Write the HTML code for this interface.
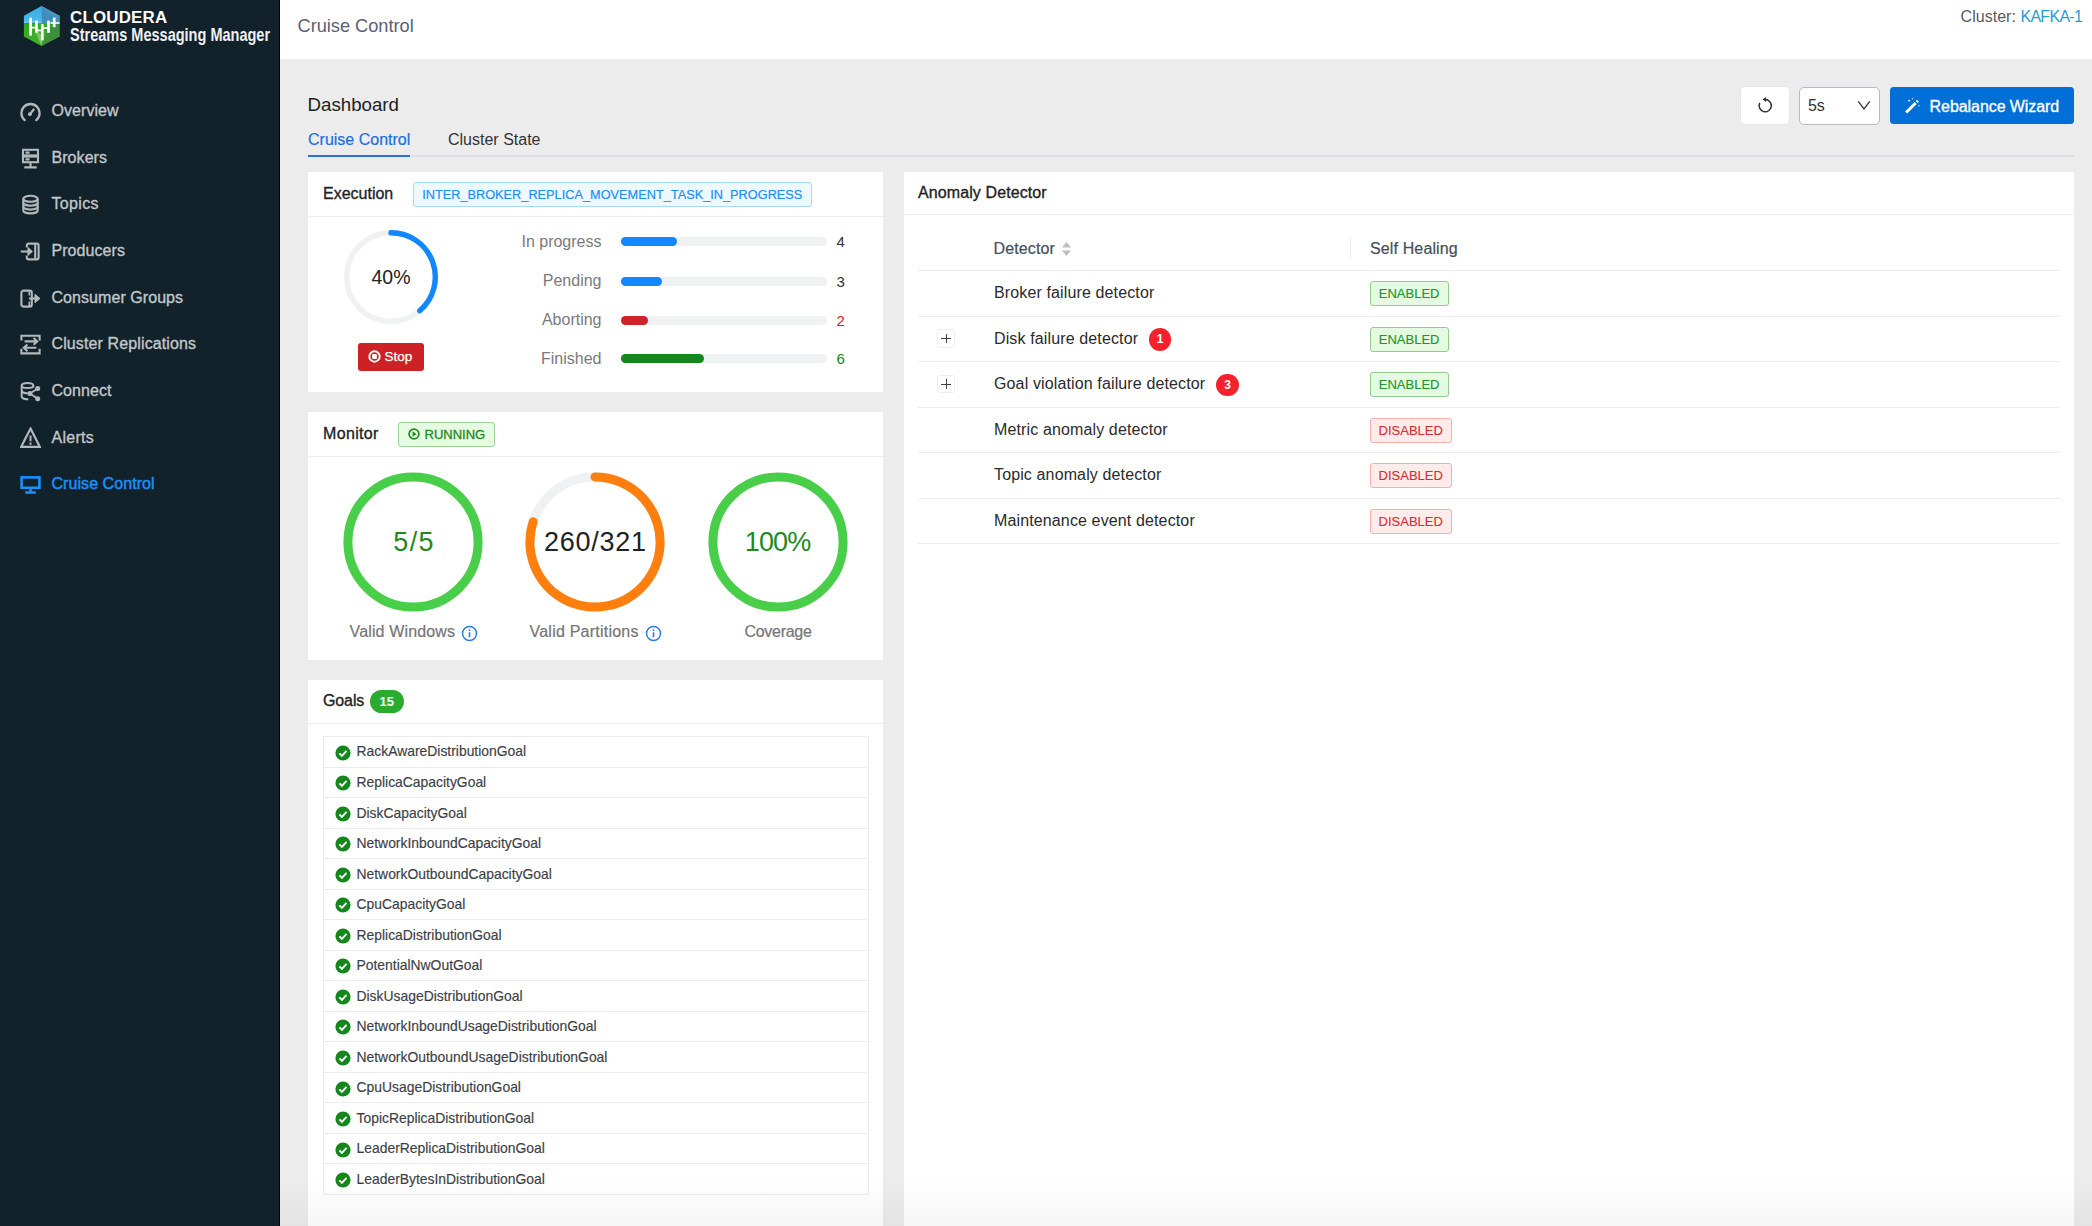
<!DOCTYPE html>
<html lang="en">
<head>
<meta charset="utf-8">
<title>Cruise Control - Streams Messaging Manager</title>
<style>
*{box-sizing:border-box;margin:0;padding:0}
html,body{width:2092px;height:1226px;overflow:hidden;background:#ececec;font-family:"Liberation Sans",sans-serif;color:#222}
.abs{position:absolute}
.t{position:absolute;white-space:nowrap;line-height:1}
.med{-webkit-text-stroke:0.33px currentColor}
#side{position:absolute;left:0;top:0;width:279.8px;height:1226px;background:#12222a;border-right:1.6px solid #03070a}
#top{position:absolute;left:280px;top:0;width:1812px;height:59px;background:#fff}
.nav{position:absolute;left:51.5px;font-size:16px;color:#c3c8ca;white-space:nowrap;line-height:20px;-webkit-text-stroke:0.32px currentColor;letter-spacing:0.06px}
.nav.on{color:#1a90ff}
.ico{position:absolute;left:20px;width:21px;height:21px}
.card{position:absolute;background:#fff}
.hr{position:absolute;height:1.5px;background:#eeeeee}
.tag{position:absolute;border:1px solid;border-radius:3px;font-size:13px;line-height:23px;white-space:nowrap;text-align:center;-webkit-text-stroke:0.12px currentColor}
.tag.en{background:#e4fae1;border-color:#92cd8f;color:#22942c}
.tag.dis{background:#ffecea;border-color:#f6aeaa;color:#d52c34}
.plabel{position:absolute;right:281.5px;font-size:16px;color:#7a7a7a;white-space:nowrap;line-height:20px}
.pbar{position:absolute;left:313px;width:206px;height:9px;border-radius:5px;background:#f0f1f2}
.pbar i{position:absolute;left:0;top:0;height:9px;border-radius:5px}
.pval{position:absolute;left:528.5px;font-size:15px;line-height:20px}
.grow{position:absolute;left:0;width:543px;height:30.5px;border-top:1.3px solid #ececec}
.grow span{position:absolute;left:32.5px;top:6.3px;font-size:13.9px;line-height:16px;color:#3c4045;white-space:nowrap;-webkit-text-stroke:0.15px currentColor}
.grow svg{position:absolute;left:10.5px;top:7.6px;width:16px;height:16px}
.drow{position:absolute;left:14px;width:1141px;height:45.5px;border-bottom:1.3px solid #ececec}
.drow .n{position:absolute;left:76.5px;top:12.2px;font-size:16px;line-height:20px;color:#2a2a2a;white-space:nowrap;letter-spacing:0.13px}
.exp{position:absolute;left:19px;top:12.5px;width:18.5px;height:18.5px;border:1px solid #efefef;border-radius:3px;background:#fff}
.exp:before{content:"";position:absolute;left:3.5px;right:3.5px;top:8px;height:1.2px;background:#444}
.exp:after{content:"";position:absolute;top:3.5px;bottom:3.5px;left:8px;width:1.2px;background:#444}
.bdg{position:absolute;width:22.7px;height:22.7px;border-radius:11.4px;background:#f5222d;color:#fff;font-size:12px;font-weight:700;line-height:22.7px;text-align:center}
.clabel{position:absolute;-webkit-text-stroke:0.2px currentColor;font-size:16px;color:#757575;line-height:20px;white-space:nowrap}
</style>
</head>
<body>
<!-- SIDEBAR -->
<div id="side">
  <svg class="abs" style="left:23px;top:5px" width="38" height="43" viewBox="0 0 38 43">
    <defs>
      <linearGradient id="lg1" x1="0" y1="0" x2="0" y2="1"><stop offset="0" stop-color="#36aee8"/><stop offset=".7" stop-color="#45b6ea"/><stop offset="1" stop-color="#7ccbf2"/></linearGradient>
      <linearGradient id="lg2" x1="0" y1="0" x2="0" y2="1"><stop offset="0" stop-color="#2fa820"/><stop offset="1" stop-color="#45b030"/></linearGradient>
    </defs>
    <polygon points="18.5,0.9 36.5,10.7 36.5,19.6 0.9,18 0.9,10.7" fill="url(#lg1)"/>
    <polygon points="18.5,0.9 36.5,10.7 36.5,19.6 19,19" fill="#3f86b2" opacity=".85"/>
    <polygon points="18.5,0.9 36.5,10.7 36.5,15 24,8" fill="#5a9cc4" opacity=".5"/>
    <polygon points="0.9,18 36.5,19.6 36.5,31.5 18.5,41 0.9,31.5" fill="url(#lg2)"/>
    <polygon points="36.5,19.6 36.5,31.5 18.5,41 26,22" fill="#3f8a42" opacity=".85"/>
    <polygon points="12,26 18.5,41 20,30" fill="#9fd98a" opacity=".6"/>
    <g stroke="#fff" stroke-width="2.7" stroke-linecap="butt">
      <line x1="7.6" y1="12.6" x2="7.6" y2="30.6"/><line x1="13.5" y1="15.6" x2="13.5" y2="27.8"/>
      <line x1="19.3" y1="19" x2="19.3" y2="35.4"/><line x1="25.5" y1="15.6" x2="25.5" y2="27.8"/><line x1="31.2" y1="12.6" x2="31.2" y2="22.2"/>
      <path d="M7.6 22.6H13.5M13.5 25.4H19.3M19.3 23.2H25.5" stroke-width="1.8" fill="none"/>
      <path d="M27.5 18H36.5" stroke-width="1.6" fill="none"/>
    </g>
  </svg>
  <div class="t" style="left:69.5px;top:9.8px;font-size:16px;font-weight:700;color:#fff;letter-spacing:0.2px;transform-origin:0 0;transform:scaleX(1.055)">CLOUDERA</div>
  <div class="t" style="left:69.5px;top:24.5px;font-size:19px;font-weight:700;color:#eef1f2;transform-origin:0 0;transform:scaleX(.764)">Streams Messaging Manager</div>

  <!-- nav icons -->
  <svg class="ico" style="top:100.5px" viewBox="0 0 21 21" fill="none" stroke="#b2b8bb" stroke-width="2.3" stroke-linecap="round"><path d="M4.7 19.1A9.1 9.1 0 1 1 16.3 19.1"/><path d="M10.2 12.9L13.7 8.5" stroke-width="2.2"/><circle cx="9.9" cy="13.2" r="1.9" fill="#b2b8bb" stroke="none"/></svg>
  <svg class="ico" style="top:147.5px" viewBox="0 0 21 21" fill="none" stroke="#b2b8bb" stroke-width="2.1"><rect x="3" y="1.8" width="15" height="5.6"/><rect x="3" y="8.6" width="15" height="5.6"/><path d="M5.5 4.6h4M5.5 11.4h4M10.5 14.2v4.4M4.3 19.4h12.4" stroke-linecap="butt"/></svg>
  <svg class="ico" style="top:194px" viewBox="0 0 21 21" fill="none" stroke="#b2b8bb" stroke-width="2.1"><ellipse cx="10.5" cy="4.8" rx="7.2" ry="3"/><path d="M3.3 4.8v11.6c0 1.7 3.2 3 7.2 3s7.2-1.3 7.2-3V4.8"/><path d="M3.3 8.7c0 1.7 3.2 3 7.2 3s7.2-1.3 7.2-3M3.3 12.6c0 1.7 3.2 3 7.2 3s7.2-1.3 7.2-3"/></svg>
  <svg class="ico" style="top:241px" viewBox="0 0 21 21" fill="none" stroke="#b2b8bb" stroke-width="2.1" stroke-linejoin="round"><path d="M6.8 6.6V4.4c0-1 .8-1.800000000000001 1.800000000000001-1.800000000000001h8.2c1 0 1.8.8 1.8 1.8v12.2c0 1-.8 1.8-1.8 1.8H8.600000000000001c-1 0-1.8-.8-1.8-1.8v-2.200000000000001"/><path d="M15.2 3.2v14.6"/><path d="M.8 10.5h9.6"/><path d="M8 6.6l4.4 3.9-4.4 3.9z" fill="#b2b8bb" stroke-width="1"/></svg>
  <svg class="ico" style="top:287.5px" viewBox="0 0 21 21" fill="none" stroke="#b2b8bb" stroke-width="2.1" stroke-linejoin="round"><rect x="1.4" y="2.6" width="10.4" height="16" rx="2.2"/><path d="M9.3 3.2v4.2M9.3 13.6v4.4" stroke-width="1.6"/><path d="M9 10.5h8"/><path d="M15 6.3l5 4.2-5 4.2z" fill="#b2b8bb" stroke-width="1"/></svg>
  <svg class="ico" style="top:334px" viewBox="0 0 21 21" fill="none" stroke="#b2b8bb" stroke-width="2.1"><path d="M1.4 6.4V1.8h18.200000000000003V6.4M1.4 14.8v4.6h18.200000000000003V14.8" /><path d="M4.6 7.4h12M13.6 4l3.6 3.4-3.6 3.4M16.4 13.8H4.4M7.4 10.4L3.8 13.8l3.6 3.4"/></svg>
  <svg class="ico" style="top:380.5px" viewBox="0 0 21 21" fill="none" stroke="#b2b8bb" stroke-width="2"><ellipse cx="7.5" cy="4.4" rx="5.8" ry="2.5"/><path d="M1.7 4.4v11.4c0 1.300000000000001 2.6 2.5 5.8 2.5h.8M13.3 4.4v2.4M1.7 9.8c0 1.300000000000001 2.6 2.5 5.800000000000001 2.5"/><path d="M17.5 7.8L9.8 12.6l7.700000000000001 5" stroke-width="1.8"/><circle cx="17.7" cy="7.6" r="2.5" fill="#b2b8bb" stroke="none"/><circle cx="9.8" cy="12.6" r="2.5" fill="#b2b8bb" stroke="none"/><circle cx="17.7" cy="17.8" r="2.5" fill="#b2b8bb" stroke="none"/></svg>
  <svg class="ico" style="top:427px" viewBox="0 0 21 21" fill="none" stroke="#b2b8bb" stroke-width="2.2" stroke-linejoin="miter"><path d="M10.5 1.6L19.8 19.8H1.2z"/><path d="M10.5 8.6v5.6M10.5 15.6v2.2" stroke-width="2"/></svg>
  <svg class="ico" style="top:474px" viewBox="0 0 21 21" fill="none" stroke="#1a90ff" stroke-width="2.6"><rect x="1.6" y="3.4" width="17.8" height="10.4"/><path d="M10.5 14v4M5.2 18.4h10.6" stroke-width="2.5"/></svg>

  <div class="nav" style="top:100.5px">Overview</div>
  <div class="nav" style="top:147.7px">Brokers</div>
  <div class="nav" style="top:194px;letter-spacing:0.35px">Topics</div>
  <div class="nav" style="top:241px">Producers</div>
  <div class="nav" style="top:288px">Consumer Groups</div>
  <div class="nav" style="top:334px;letter-spacing:0.12px">Cluster Replications</div>
  <div class="nav" style="top:381px">Connect</div>
  <div class="nav" style="top:427.6px;letter-spacing:0.25px">Alerts</div>
  <div class="nav on" style="top:474px;-webkit-text-stroke:0.45px currentColor">Cruise Control</div>
</div>

<!-- TOP BAR -->
<div id="top">
  <div class="t" style="left:17.5px;top:16.5px;font-size:18.2px;color:#596172">Cruise Control</div>
  <div class="t" style="right:9.8px;top:8.6px;font-size:16px;color:#5a5a5a"><span style="letter-spacing:0.03px">Cluster: </span><span style="color:#2a9bd2;letter-spacing:-0.7px">KAFKA-1</span></div>
</div>

<!-- DASHBOARD HEADER -->
<div class="t" style="left:307.5px;top:95.5px;font-size:18.7px;color:#222">Dashboard</div>
<div class="t" style="left:308px;top:131.5px;font-size:16px;color:#1a6fe0;-webkit-text-stroke:0.2px currentColor">Cruise Control</div>
<div class="t" style="left:448px;top:131.5px;font-size:16px;color:#333">Cluster State</div>
<div class="abs" style="left:308px;top:155px;width:1766px;height:1.5px;background:#dcdfe3"></div>
<div class="abs" style="left:308px;top:154.7px;width:102.2px;height:2px;background:#2a6fdc"></div>

<!-- top-right controls -->
<div class="abs" style="left:1741.3px;top:87px;width:48px;height:37.3px;background:#fff;border-radius:4px;box-shadow:0 0 1.5px rgba(0,0,0,.12)">
  <svg class="abs" style="left:14.3px;top:8.6px" width="19" height="19" viewBox="0 0 19 19" fill="none" stroke="#333" stroke-width="1.5"><path d="M9.2 3.6a6.1 6.1 0 1 1-5.6 3.8" stroke-linecap="round"/><path d="M6.5 3.5l3.6-2.6v5.2z" fill="#333" stroke="none"/></svg>
</div>
<div class="abs" style="left:1799px;top:86.5px;width:81.3px;height:38px;background:#fff;border:1.8px solid #b6babf;border-radius:5px">
  <div class="t" style="left:7.9px;top:10.9px;font-size:16px;color:#333">5s</div>
  <svg class="abs" style="left:57.1px;top:12.1px" width="14" height="12" viewBox="0 0 14 12" fill="none" stroke="#333" stroke-width="1.3"><path d="M1.2 1.3l5.8 7.6 5.8-7.6"/></svg>
</div>
<div class="abs" style="left:1890px;top:87px;width:184px;height:37.2px;background:#0070d8;border-radius:3.5px">
  <svg class="abs" style="left:13.5px;top:9.6px" width="17.5" height="17.5" viewBox="0 0 19 19" fill="#fff"><path d="M1.2 15.8L11.6 5.4l2.200000000000001 2.2L3.4 18z"/><path d="M12.6 4.4l1.5-1.5 2.2 2.2-1.5 1.5z" opacity=".9"/><path d="M5.5 2.2l.5 1.300000000000001 1.300000000000001.5-1.3.5-.5 1.3-.5-1.3-1.3-.5 1.3-.5zM9.2.6l.4.9.9.4-.9.4-.4.9-.4-.9-.9-.4.9-.4zM16.2 8.2l.4.9.9.4-.9.4-.4.9-.4-.9-.9-.4.9-.4z" opacity=".85"/></svg>
  <div class="t med" style="left:39.6px;top:11.7px;font-size:16px;letter-spacing:-0.07px;color:#fff">Rebalance Wizard</div>
</div>

<!-- EXECUTION CARD -->
<div class="card" id="exec" style="left:308px;top:172px;width:575px;height:219.5px">
  <div class="t med" style="left:15px;top:13.5px;font-size:16px;color:#222">Execution</div>
  <div class="tag" style="left:104.5px;top:9.5px;width:399.5px;height:25px;background:#eef8ff;border-color:#a6d8fb;color:#1a90ff;font-size:12.75px;-webkit-text-stroke:0.2px currentColor">INTER_BROKER_REPLICA_MOVEMENT_TASK_IN_PROGRESS</div>
  <div class="hr" style="left:0;top:43.7px;width:575px"></div>
  <svg class="abs" style="left:33.4px;top:55px" width="100" height="100" viewBox="0 0 100 100" fill="none">
    <circle cx="50" cy="50" r="44.3" stroke="#f0f1f2" stroke-width="5.4"/>
    <path d="M50 5.7A44.3 44.3 0 0 1 78.77 83.69" stroke="#1188ff" stroke-width="5.4" stroke-linecap="round"/>
  </svg>
  <div class="t" style="left:33px;top:95.5px;width:100px;text-align:center;font-size:19.5px;color:#222">40%</div>
  <div class="abs" style="left:50px;top:171px;width:66px;height:27.5px;background:#cd2126;border-radius:3px">
    <svg class="abs" style="left:9.5px;top:7px" width="13" height="13" viewBox="0 0 13 13"><circle cx="6.5" cy="6.5" r="5.2" fill="none" stroke="#fff" stroke-width="1.9"/><rect x="4.1" y="4.1" width="4.8" height="4.8" rx="1" fill="#fff"/></svg>
    <div class="t" style="left:26.5px;top:7px;font-size:13.5px;color:#fff;-webkit-text-stroke:0.25px #fff">Stop</div>
  </div>
  <div class="plabel" style="top:59.5px">In progress</div>
  <div class="plabel" style="top:98.8px">Pending</div>
  <div class="plabel" style="top:138.2px">Aborting</div>
  <div class="plabel" style="top:176.8px">Finished</div>
  <div class="pbar" style="top:65.3px"><i style="width:55.5px;background:#1188ff"></i></div>
  <div class="pbar" style="top:104.7px"><i style="width:40.5px;background:#1188ff"></i></div>
  <div class="pbar" style="top:143.7px"><i style="width:26.5px;background:#d0222a"></i></div>
  <div class="pbar" style="top:181.7px"><i style="width:82.5px;background:#14871c"></i></div>
  <div class="pval" style="top:60px;color:#333">4</div>
  <div class="pval" style="top:99.5px;color:#333">3</div>
  <div class="pval" style="top:138.5px;color:#d0222a">2</div>
  <div class="pval" style="top:176.5px;color:#14871c">6</div>
</div>

<!-- MONITOR CARD -->
<div class="card" id="mon" style="left:308px;top:412px;width:575px;height:248px">
  <div class="t med" style="left:15px;top:13.5px;font-size:16px;letter-spacing:0.35px;color:#222">Monitor</div>
  <div class="tag" style="left:90px;top:9.7px;width:97.3px;height:25.3px;background:#e6fbe2;border-color:#9ed499;color:#1e8a22;font-size:13px">
    <svg class="abs" style="left:8.5px;top:5.7px" width="12" height="12" viewBox="0 0 12 12"><circle cx="6" cy="6" r="4.9" fill="none" stroke="#1e8a22" stroke-width="1.7"/><path d="M4.5 3.3L8.6 6 4.5 8.7z" fill="#1e8a22"/></svg>
    <span class="t" style="left:25.5px;top:5.3px;font-size:13px;-webkit-text-stroke:0.3px currentColor">RUNNING</span>
  </div>
  <div class="hr" style="left:0;top:43.7px;width:575px"></div>
  <svg class="abs" style="left:30.4px;top:54.7px" width="150" height="150" viewBox="0 0 150 150" fill="none"><circle cx="75" cy="75" r="65.1" stroke="#49ce49" stroke-width="9"/></svg>
  <svg class="abs" style="left:212px;top:54.7px" width="150" height="150" viewBox="0 0 150 150" fill="none"><circle cx="75" cy="75" r="65.1" stroke="#f0f1f2" stroke-width="9"/><path d="M75 9.9A65.1 65.1 0 1 1 13.16 54.67" stroke="#ff7f0e" stroke-width="9" stroke-linecap="round"/></svg>
  <svg class="abs" style="left:395px;top:54.7px" width="150" height="150" viewBox="0 0 150 150" fill="none"><circle cx="75" cy="75" r="65.1" stroke="#49ce49" stroke-width="9"/></svg>
  <div class="t" style="left:30.4px;top:117px;width:150px;text-align:center;font-size:27px;letter-spacing:1.3px;text-indent:1.3px;color:#1f8a1f">5/5</div>
  <div class="t" style="left:212px;top:117px;width:150px;text-align:center;font-size:27px;letter-spacing:0.7px;text-indent:0.7px;color:#222">260/321</div>
  <div class="t" style="left:395px;top:117px;width:150px;text-align:center;font-size:27px;letter-spacing:-0.9px;text-indent:-0.9px;color:#1f8a1f">100%</div>
  <div class="clabel" style="left:41.5px;top:210px;letter-spacing:0.15px">Valid Windows</div>
  <svg class="abs" style="left:153.2px;top:212.5px" width="17" height="17" viewBox="0 0 17 17"><circle cx="8.5" cy="8.5" r="7" fill="none" stroke="#2a7be4" stroke-width="1.5"/><rect x="7.7" y="7.3" width="1.6" height="5" fill="#2a7be4"/><rect x="7.7" y="4.4" width="1.6" height="1.7" fill="#2a7be4"/></svg>
  <div class="clabel" style="left:221.5px;top:210px;letter-spacing:0.23px">Valid Partitions</div>
  <svg class="abs" style="left:337px;top:212.5px" width="17" height="17" viewBox="0 0 17 17"><circle cx="8.5" cy="8.5" r="7" fill="none" stroke="#2a7be4" stroke-width="1.5"/><rect x="7.7" y="7.3" width="1.6" height="5" fill="#2a7be4"/><rect x="7.7" y="4.4" width="1.6" height="1.7" fill="#2a7be4"/></svg>
  <div class="clabel" style="left:436.5px;top:210px;letter-spacing:-0.3px">Coverage</div>
</div>

<!-- GOALS CARD -->
<div class="card" id="goals" style="left:308px;top:680.2px;width:575px;height:560px">
  <div class="t med" style="left:15px;top:13.3px;font-size:16px;letter-spacing:-0.12px;color:#222">Goals</div>
  <div class="abs" style="left:61.5px;top:9.8px;width:34.5px;height:23.3px;border-radius:12px;background:#29ab30;color:#fff;font-size:13px;font-weight:700;line-height:23.5px;text-align:center">15</div>
  <div class="hr" style="left:0;top:42.6px;width:575px"></div>
  <div class="abs" id="glist" style="left:15px;top:56px;width:545.5px;height:458.5px;border:1.3px solid #ececec;border-top:none">
    <div class="grow" style="top:0.00px"><svg viewBox="0 0 16 16"><circle cx="8" cy="8" r="7.6" fill="#14871c"/><path d="M4.4 8.3l2.5 2.5 4.7-5" fill="none" stroke="#fff" stroke-width="1.9"/></svg><span>RackAwareDistributionGoal</span></div>
    <div class="grow" style="top:30.52px"><svg viewBox="0 0 16 16"><circle cx="8" cy="8" r="7.6" fill="#14871c"/><path d="M4.4 8.3l2.5 2.5 4.7-5" fill="none" stroke="#fff" stroke-width="1.9"/></svg><span>ReplicaCapacityGoal</span></div>
    <div class="grow" style="top:61.04px"><svg viewBox="0 0 16 16"><circle cx="8" cy="8" r="7.6" fill="#14871c"/><path d="M4.4 8.3l2.5 2.5 4.7-5" fill="none" stroke="#fff" stroke-width="1.9"/></svg><span>DiskCapacityGoal</span></div>
    <div class="grow" style="top:91.56px"><svg viewBox="0 0 16 16"><circle cx="8" cy="8" r="7.6" fill="#14871c"/><path d="M4.4 8.3l2.5 2.5 4.7-5" fill="none" stroke="#fff" stroke-width="1.9"/></svg><span>NetworkInboundCapacityGoal</span></div>
    <div class="grow" style="top:122.08px"><svg viewBox="0 0 16 16"><circle cx="8" cy="8" r="7.6" fill="#14871c"/><path d="M4.4 8.3l2.5 2.5 4.7-5" fill="none" stroke="#fff" stroke-width="1.9"/></svg><span>NetworkOutboundCapacityGoal</span></div>
    <div class="grow" style="top:152.60px"><svg viewBox="0 0 16 16"><circle cx="8" cy="8" r="7.6" fill="#14871c"/><path d="M4.4 8.3l2.5 2.5 4.7-5" fill="none" stroke="#fff" stroke-width="1.9"/></svg><span>CpuCapacityGoal</span></div>
    <div class="grow" style="top:183.12px"><svg viewBox="0 0 16 16"><circle cx="8" cy="8" r="7.6" fill="#14871c"/><path d="M4.4 8.3l2.5 2.5 4.7-5" fill="none" stroke="#fff" stroke-width="1.9"/></svg><span>ReplicaDistributionGoal</span></div>
    <div class="grow" style="top:213.64px"><svg viewBox="0 0 16 16"><circle cx="8" cy="8" r="7.6" fill="#14871c"/><path d="M4.4 8.3l2.5 2.5 4.7-5" fill="none" stroke="#fff" stroke-width="1.9"/></svg><span>PotentialNwOutGoal</span></div>
    <div class="grow" style="top:244.16px"><svg viewBox="0 0 16 16"><circle cx="8" cy="8" r="7.6" fill="#14871c"/><path d="M4.4 8.3l2.5 2.5 4.7-5" fill="none" stroke="#fff" stroke-width="1.9"/></svg><span>DiskUsageDistributionGoal</span></div>
    <div class="grow" style="top:274.68px"><svg viewBox="0 0 16 16"><circle cx="8" cy="8" r="7.6" fill="#14871c"/><path d="M4.4 8.3l2.5 2.5 4.7-5" fill="none" stroke="#fff" stroke-width="1.9"/></svg><span>NetworkInboundUsageDistributionGoal</span></div>
    <div class="grow" style="top:305.20px"><svg viewBox="0 0 16 16"><circle cx="8" cy="8" r="7.6" fill="#14871c"/><path d="M4.4 8.3l2.5 2.5 4.7-5" fill="none" stroke="#fff" stroke-width="1.9"/></svg><span>NetworkOutboundUsageDistributionGoal</span></div>
    <div class="grow" style="top:335.72px"><svg viewBox="0 0 16 16"><circle cx="8" cy="8" r="7.6" fill="#14871c"/><path d="M4.4 8.3l2.5 2.5 4.7-5" fill="none" stroke="#fff" stroke-width="1.9"/></svg><span>CpuUsageDistributionGoal</span></div>
    <div class="grow" style="top:366.24px"><svg viewBox="0 0 16 16"><circle cx="8" cy="8" r="7.6" fill="#14871c"/><path d="M4.4 8.3l2.5 2.5 4.7-5" fill="none" stroke="#fff" stroke-width="1.9"/></svg><span>TopicReplicaDistributionGoal</span></div>
    <div class="grow" style="top:396.76px"><svg viewBox="0 0 16 16"><circle cx="8" cy="8" r="7.6" fill="#14871c"/><path d="M4.4 8.3l2.5 2.5 4.7-5" fill="none" stroke="#fff" stroke-width="1.9"/></svg><span>LeaderReplicaDistributionGoal</span></div>
    <div class="grow" style="top:427.28px"><svg viewBox="0 0 16 16"><circle cx="8" cy="8" r="7.6" fill="#14871c"/><path d="M4.4 8.3l2.5 2.5 4.7-5" fill="none" stroke="#fff" stroke-width="1.9"/></svg><span>LeaderBytesInDistributionGoal</span></div>
  </div>
</div>

<!-- ANOMALY CARD -->
<div class="card" id="anom" style="left:903.5px;top:172px;width:1170.5px;height:1070px">
  <div class="t med" style="left:14.5px;top:12.5px;font-size:16px;letter-spacing:0.1px;color:#222">Anomaly Detector</div>
  <div class="hr" style="left:0;top:41.7px;width:1170.5px"></div>
  <div class="t" style="left:90px;top:68.8px;font-size:16px;letter-spacing:0.13px;color:#46505a;-webkit-text-stroke:0.22px currentColor">Detector</div>
  <svg class="abs" style="left:157.6px;top:68.6px" width="11" height="16" viewBox="0 0 11 16"><path d="M5.5 1L10 6.6H1z" fill="#bdbdbd"/><path d="M5.5 15L10 9.4H1z" fill="#bdbdbd"/></svg>
  <div class="abs" style="left:446px;top:63px;width:1.3px;height:26px;background:#f0f0f0"></div>
  <div class="t" style="left:466.5px;top:68.8px;font-size:16px;letter-spacing:0.13px;color:#46505a;-webkit-text-stroke:0.22px currentColor">Self Healing</div>
  <div class="abs" style="left:14px;top:97.7px;width:1141px;height:1.5px;background:#e8e8e8"></div>
  <div id="drows">
    <div class="drow" style="top:99.0px"><div class="n">Broker failure detector</div><div class="tag en" style="left:452px;top:10.3px;width:79.3px;height:25px">ENABLED</div></div>
    <div class="drow" style="top:144.5px"><div class="exp"></div><div class="n">Disk failure detector</div><div class="bdg" style="left:231.3px;top:11.5px">1</div><div class="tag en" style="left:452px;top:10.3px;width:79.3px;height:25px">ENABLED</div></div>
    <div class="drow" style="top:190.0px"><div class="exp"></div><div class="n">Goal violation failure detector</div><div class="bdg" style="left:298.8px;top:11.5px">3</div><div class="tag en" style="left:452px;top:10.3px;width:79.3px;height:25px">ENABLED</div></div>
    <div class="drow" style="top:235.5px"><div class="n">Metric anomaly detector</div><div class="tag dis" style="left:452px;top:10.3px;width:82.5px;height:25px">DISABLED</div></div>
    <div class="drow" style="top:281.0px"><div class="n">Topic anomaly detector</div><div class="tag dis" style="left:452px;top:10.3px;width:82.5px;height:25px">DISABLED</div></div>
    <div class="drow" style="top:326.5px"><div class="n">Maintenance event detector</div><div class="tag dis" style="left:452px;top:10.3px;width:82.5px;height:25px">DISABLED</div></div>
  </div>
</div>
<!-- bottom fade -->
<div class="abs" style="left:280px;top:1176px;width:1812px;height:50px;background:linear-gradient(to bottom,rgba(0,0,0,0),rgba(0,0,0,0.035))"></div>
</body>
</html>
